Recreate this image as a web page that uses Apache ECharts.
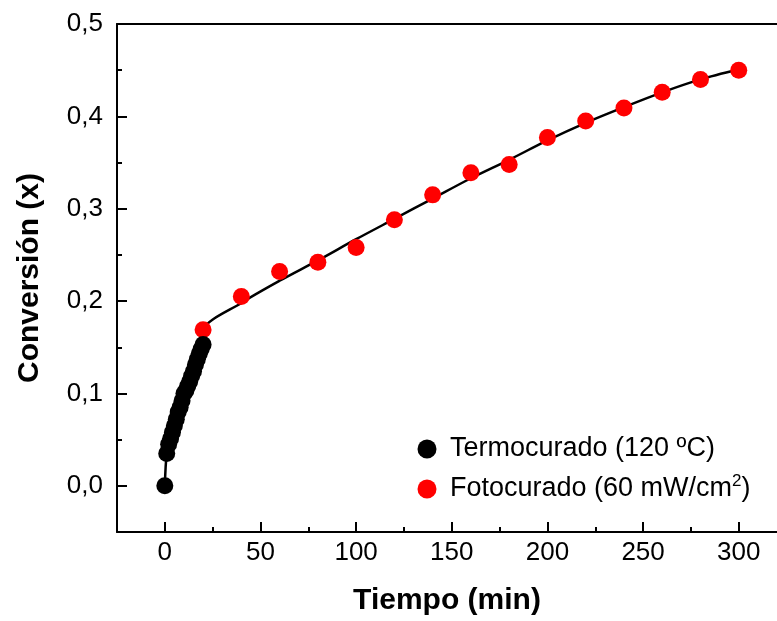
<!DOCTYPE html>
<html>
<head>
<meta charset="utf-8">
<script src="https://cdn.jsdelivr.net/npm/echarts@6/dist/echarts.min.js"></script>
<style>html,body{margin:0;padding:0;background:#fff}#c{width:777px;height:621px}</style>
</head>
<body>
<div id="c"></div>
<script>
// Termocurado (120 ºC): time (min), conversion
const termoT = [0, 1, 2, 3, 4, 5, 6, 7, 8, 9, 10, 11, 12, 13, 14, 15, 16, 17, 18, 19, 20];
const termoX = [0, 0.035, 0.045, 0.051, 0.058, 0.065, 0.072, 0.08, 0.085, 0.092, 0.1, 0.103, 0.108, 0.113, 0.119, 0.124, 0.131, 0.137, 0.143, 0.148, 0.153];
// Fotocurado (60 mW/cm2)
const fotoT = [20, 40, 60, 80, 100, 120, 140, 160, 180, 200, 220, 240, 260, 280, 300];
const fotoX = [0.169, 0.205, 0.232, 0.242, 0.258, 0.288, 0.315, 0.339, 0.348, 0.377, 0.395, 0.409, 0.426, 0.440, 0.450];
// fitted curve
const fitT = [0, 1, 3, 6, 9, 12, 15, 18, 19.5, 20, 40, 60, 80, 100, 120, 140, 160, 180, 200, 220, 240, 260, 280, 300];
const fitX = [0, 0.035, 0.051, 0.072, 0.092, 0.108, 0.124, 0.143, 0.152, 0.169, 0.198, 0.222, 0.244, 0.267, 0.289, 0.311, 0.333, 0.353, 0.374, 0.393, 0.410, 0.426, 0.440, 0.451];
const xMajor = [0, 50, 100, 150, 200, 250, 300];
const xMinor = [25, 75, 125, 175, 225, 275];
const yMajor = [0, 0.1, 0.2, 0.3, 0.4, 0.5];
const yMinor = [0.05, 0.15, 0.25, 0.35, 0.45];
const legendNames = ['Termocurado (120 ºC)', 'Fotocurado (60 mW/cm2)'];

const zip = (a, b) => a.map((v, i) => [v, b[i]]);
const font = '"Liberation Sans", Arial, sans-serif';
const axisLine = {show: true, onZero: false, lineStyle: {color: '#000', width: 2}};
const X_MIN = -25, X_MAX = 320;

const chart = echarts.init(document.getElementById('c'), null, {renderer: 'canvas'});
chart.setOption({
  animation: false,
  backgroundColor: '#fff',
  grid: {left: 117, top: 24, right: 0, bottom: 82, show: false},
  legend: {show: false},
  graphic: [
    {type: 'circle', shape: {cx: 427, cy: 449, r: 9.5}, style: {fill: '#000'}},
    {type: 'circle', shape: {cx: 427, cy: 489, r: 9.5}, style: {fill: '#ff0000'}},
    {type: 'text', x: 450, y: 449, style: {text: legendNames[0], font: '27px ' + font, fill: '#000', textVerticalAlign: 'middle'}},
    {type: 'text', x: 450, y: 489, style: {text: 'Fotocurado (60 mW/cm{sup|2})', font: '27px ' + font, fill: '#000', textVerticalAlign: 'middle',
      rich: {sup: {fontFamily: font, fontSize: 17, fill: '#000', padding: [0, 0, 16, 0]}}}}
  ],
  xAxis: [{
    type: 'value', min: X_MIN, max: X_MAX, gridIndex: 0, position: 'bottom',
    name: 'Tiempo (min)', nameLocation: 'middle', nameGap: 54,
    nameTextStyle: {fontFamily: font, fontSize: 30, fontWeight: 'bold', color: '#000'},
    axisLine: axisLine, splitLine: {show: false},
    axisTick: {show: true, inside: true, length: 10, lineStyle: {color: '#000', width: 2}, customValues: xMajor},
    axisLabel: {fontFamily: font, fontSize: 26, color: '#000', margin: 8, customValues: xMajor}
  }, {
    type: 'value', min: X_MIN, max: X_MAX, gridIndex: 0, position: 'bottom',
    axisLine: {show: false, onZero: false}, splitLine: {show: false},
    axisTick: {show: true, inside: true, length: 5, lineStyle: {color: '#000', width: 2}, customValues: xMinor},
    axisLabel: {show: false}
  }, {
    type: 'value', min: X_MIN, max: X_MAX, gridIndex: 0, position: 'top',
    axisLine: axisLine, splitLine: {show: false}, axisTick: {show: false}, axisLabel: {show: false}
  }],
  yAxis: [{
    type: 'value', min: -0.05, max: 0.5, position: 'left',
    name: 'Conversión (x)', nameLocation: 'middle', nameGap: 72, nameRotate: 90,
    nameTextStyle: {fontFamily: font, fontSize: 30, fontWeight: 'bold', color: '#000'},
    axisLine: axisLine, splitLine: {show: false},
    axisTick: {show: true, inside: true, length: 10, lineStyle: {color: '#000', width: 2}, customValues: yMajor},
    axisLabel: {fontFamily: font, fontSize: 26, color: '#000', margin: 14, customValues: yMajor,
      formatter: v => v.toFixed(1).replace('.', ',')}
  }, {
    type: 'value', min: -0.05, max: 0.5, position: 'left',
    axisLine: {show: false, onZero: false}, splitLine: {show: false},
    axisTick: {show: true, inside: true, length: 5, lineStyle: {color: '#000', width: 2}, customValues: yMinor},
    axisLabel: {show: false}
  }],
  series: [{
    name: 'ajuste', type: 'line', data: zip(fitT, fitX), smooth: 0.3, showSymbol: false,
    lineStyle: {color: '#000', width: 2.5}, z: 1, silent: true
  }, {
    name: legendNames[0], type: 'scatter', data: zip(termoT, termoX),
    symbol: 'circle', symbolSize: 17, itemStyle: {color: '#000', opacity: 1}, z: 3
  }, {
    name: legendNames[1], type: 'scatter', data: zip(fotoT, fotoX),
    symbol: 'circle', symbolSize: 17, itemStyle: {color: '#ff0000', opacity: 1}, z: 2
  }]
});
</script>
</body>
</html>
